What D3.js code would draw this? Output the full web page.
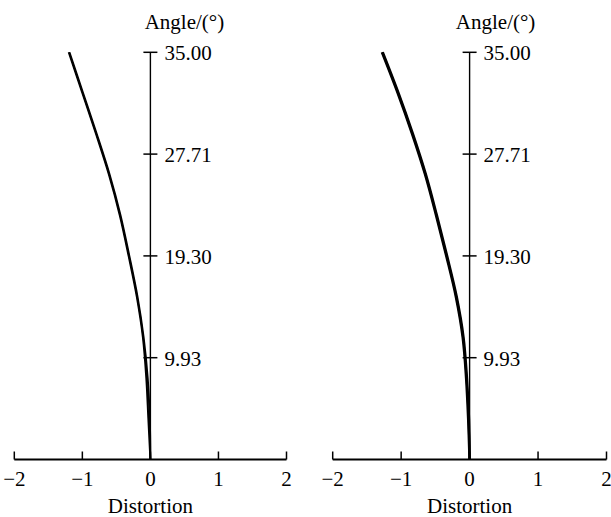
<!DOCTYPE html>
<html><head><meta charset="utf-8">
<script src="https://cdn.jsdelivr.net/npm/d3@7"></script>
<style>
html,body{margin:0;padding:0;background:#fff;}
text{font-family:"Liberation Serif","Times New Roman",serif;fill:#000;}
</style></head>
<body><svg id="c" width="611" height="517"></svg>
<script>
// Relative field height (tan(angle)/tan(35°))
const fieldFrac = [0, 0.1, 0.2, 0.3, 0.4, 0.5, 0.6, 0.7, 0.8, 0.9, 1.0];
const angleTickPos = [0, 0.25, 0.5, 0.75, 1];
const angleTickLabels = ["", "9.93", "19.30", "27.71", "35.00"];
const distTicks = [-2, -1, 0, 1, 2];
const distTickLabels = ["\u22122", "\u22121", "0", "1", "2"];
// Distortion values (two overlapping traces per panel)
const leftA  = [0, -0.03, -0.06, -0.11, -0.20, -0.32, -0.45, -0.61, -0.80, -1.00, -1.20];
const leftB  = [0, -0.01, -0.04, -0.10, -0.19, -0.31, -0.44, -0.60, -0.79, -0.99, -1.19];
const rightA = [0, -0.02, -0.05, -0.10, -0.20, -0.34, -0.49, -0.65, -0.84, -1.05, -1.28];
const rightB = [0, -0.01, -0.04, -0.09, -0.19, -0.33, -0.48, -0.64, -0.83, -1.04, -1.27];

const svg = d3.select("#c");
const panels = [
  {x0: 14.3, x1: 286.5, series: [leftA, leftB], sw: 2.0, labelDx: 34},
  {x0: 332.7, x1: 606.5, series: [rightA, rightB], sw: 2.6, labelDx: 26}
];
const yTop = 52.3, yBot = 459.5;

panels.forEach(p => {
  const x = d3.scaleLinear().domain([-2, 2]).range([p.x0, p.x1]);
  const y = d3.scaleLinear().domain([0, 1]).range([yBot, yTop]);
  const g = svg.append("g");

  // curves
  const line = d3.line().x(d => x(d[1])).y(d => y(d[0])).curve(d3.curveCatmullRom);
  p.series.forEach(s => {
    g.append("path").datum(fieldFrac.map((f, i) => [f, s[i]]))
      .attr("d", line).attr("fill", "none").attr("stroke", "#000")
      .attr("stroke-width", p.sw).attr("stroke-linejoin", "round");
  });

  // x axis
  const xa = g.append("g").attr("transform", `translate(0,${yBot})`);
  xa.append("line").attr("x1", x(-2)).attr("x2", x(2)).attr("y1", 0).attr("y2", 0)
    .attr("stroke", "#000").attr("stroke-width", 2);
  distTicks.forEach((t, i) => {
    xa.append("line").attr("x1", x(t)).attr("x2", x(t)).attr("y1", 0).attr("y2", -8)
      .attr("stroke", "#000").attr("stroke-width", 1.5);
    xa.append("text").attr("x", x(t)).attr("y", 26).attr("text-anchor", "middle")
      .attr("font-size", 21).text(distTickLabels[i]);
  });
  g.append("text").attr("x", x(0)).attr("y", 513).attr("text-anchor", "middle")
    .attr("font-size", 21).text("Distortion");

  // y axis
  const x0 = x(0);
  g.append("line").attr("x1", x0).attr("x2", x0).attr("y1", y(1)).attr("y2", yBot)
    .attr("stroke", "#000").attr("stroke-width", 1.4);
  angleTickPos.forEach((t, i) => {
    if (!angleTickLabels[i]) return;
    g.append("line").attr("x1", x0 - 7).attr("x2", x0 + 7).attr("y1", y(t)).attr("y2", y(t))
      .attr("stroke", "#000").attr("stroke-width", 1.5);
    g.append("text").attr("x", x0 + 14).attr("y", y(t) + 8)
      .attr("font-size", 21).text(angleTickLabels[i]);
  });
  g.append("text").attr("x", x0 + p.labelDx).attr("y", 29).attr("text-anchor", "middle")
    .attr("font-size", 21).text("Angle/(°)");
});
</script></body></html>
